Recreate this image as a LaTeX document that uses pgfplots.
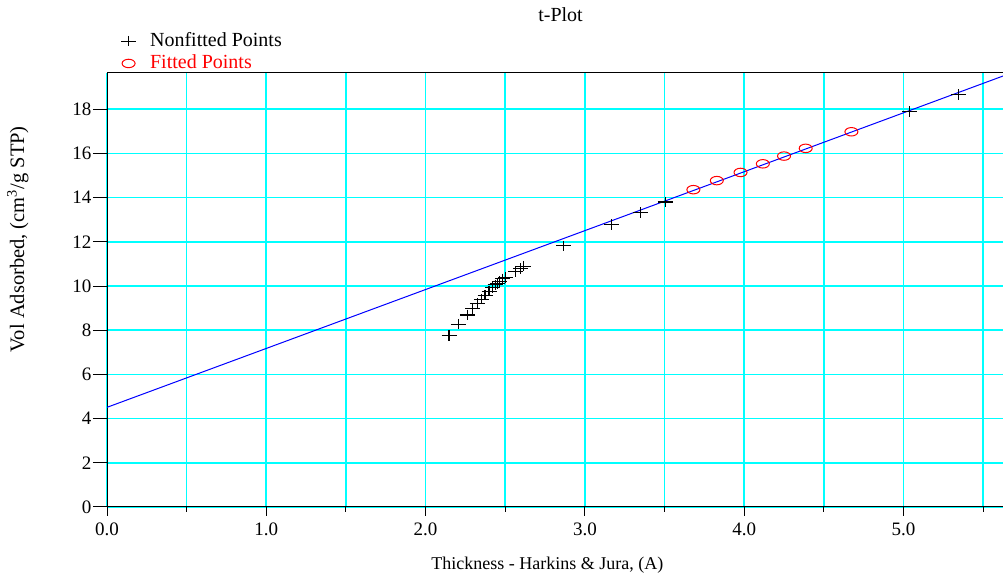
\documentclass[border=0pt]{standalone}
\usepackage{fontspec}
\setmainfont{Liberation Serif}
\usepackage{pgfplots}
\pgfplotsset{compat=1.18}
\usepackage{pgfplotstable}

% t-plot data: thickness (A) vs. volume adsorbed (cm3/g STP)
\pgfplotstableread{
t      v
2.147  7.75
2.206  8.27
2.262  8.69
2.297  8.99
2.325  9.22
2.350  9.41
2.373  9.59
2.398  9.77
2.419  9.94
2.436  10.05
2.451  10.12
2.465  10.21
2.482  10.32
2.503  10.39
2.566  10.65
2.597  10.80
2.612  10.90
2.866  11.82
3.167  12.79
3.347  13.33
3.505  13.80
5.040  17.89
5.348  18.67
}\nonfitted

\pgfplotstableread{
t      v
3.681  14.36
3.828  14.77
3.977  15.14
4.117  15.53
4.250  15.88
4.386  16.23
4.673  16.98
}\fitted

% least-squares line through the fitted points
\pgfplotstableread{
t      v
0.000  4.51
5.631  19.52
}\fitline

\definecolor{gridcyan}{RGB}{0,255,255}
\definecolor{lineblue}{RGB}{0,0,255}
\definecolor{markred}{RGB}{255,0,0}

\begin{document}
\fontsize{19}{22}\selectfont
\begin{tikzpicture}
\path[use as bounding box] (0,0) rectangle (1003pt,577pt);
\begin{axis}[
  at={(107pt,70pt)}, anchor=south west,
  scale only axis,
  width=897pt, height=434pt,
  xmin=0, xmax=5.631,
  ymin=0, ymax=19.64,
  xtick={0,1,2,3,4,5},
  minor xtick={0.5,1.5,2.5,3.5,4.5,5.5},
  ytick={0,2,...,18},
  minor y tick num=0,
  xtick pos=lower, ytick pos=left,
  tick align=outside,
  major tick length=9pt,
  minor tick length=5pt,
  ytick style={/pgfplots/major tick length=14pt},
  every tick/.style={black, line width=1pt},
  xmajorgrids=true, xminorgrids=true, ymajorgrids=true, yminorgrids=false,
  major grid style={gridcyan, line width=1.6pt},
  minor grid style={gridcyan, line width=1.6pt},
  axis line style={black, line width=1pt},
  xticklabel style={/pgf/number format/.cd, fixed, fixed zerofill, precision=1},
  /pgf/number format/assume math mode=true,
  title={t-Plot},
  title style={at={(axis description cs:0.5056,1.12)}, anchor=center,
    inner sep=0pt, font=\fontsize{20}{22}\selectfont},
  xlabel={Thickness - Harkins \& Jura, (A)},
  xlabel style={at={(axis description cs:0.491,-0.133)}, anchor=center,
    inner sep=0pt, font=\fontsize{18}{20}\selectfont},
  ylabel={Vol Adsorbed, (cm\textsuperscript{3}/g STP)},
  ylabel style={at={(axis description cs:-0.0993,0.617)}, anchor=center,
    inner sep=0pt, font=\fontsize{20.5}{23}\selectfont},
  legend style={at={(axis description cs:0.0155,1.098)}, anchor=north west,
    draw=none, fill=none, inner sep=0pt, row sep=1.5pt, column sep=12pt,
    font=\fontsize{20}{22}\selectfont,
    nodes={inner sep=2pt, anchor=west}},
  legend cell align=left,
  legend image code/.code={\draw[mark repeat=2, mark phase=2] plot coordinates {(0cm,0cm) (0.3cm,0cm) (0.6cm,0cm)};},
]
\addplot[lineblue, line width=1pt, forget plot] table[x=t, y=v] {\fitline};
\addplot[only marks, mark=+, black, mark size=7.5pt,
  mark options={line width=1.1pt, yscale=0.7}] table[x=t, y=v] {\nonfitted};
\addlegendentry{Nonfitted Points}
\addplot[only marks, mark=o, markred, mark size=6.5pt,
  mark options={line width=1pt, yscale=0.65}] table[x=t, y=v] {\fitted};
\addlegendentry{\textcolor{markred}{Fitted Points}}
\end{axis}
\end{tikzpicture}
\end{document}
